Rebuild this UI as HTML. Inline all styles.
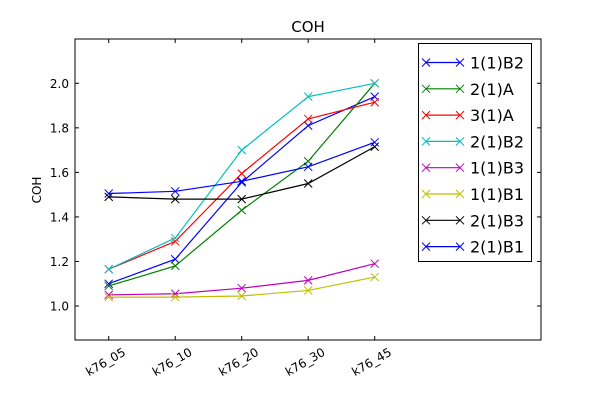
<!DOCTYPE html>
<html><head><meta charset="utf-8"><style>body{margin:0;background:#fff}svg{display:block}text{font-family:"DejaVu Sans","Liberation Sans",sans-serif}</style></head>
<body>
<svg id="s" width="600" height="400" xmlns="http://www.w3.org/2000/svg"></svg>
<script>
const s=document.getElementById('s');
const L=75,R=541,T=39,B=340;
const X=i=>108.7+i*66.5, Y=v=>306-(v-1)*222.7;
let h='<rect width="600" height="400" fill="#fff"/>';
h+='<text x="308" y="32" font-size="15" text-anchor="middle">COH</text>';
[1.0,1.2,1.4,1.6,1.8,2.0].forEach(v=>{const y=Y(v);
h+=`<line x1="${L}" y1="${y}" x2="${L+4}" y2="${y}" stroke="#000"/><line x1="${R}" y1="${y}" x2="${R-4}" y2="${y}" stroke="#000"/>`;
h+=`<text x="${L-6}" y="${y+4.5}" font-size="12" text-anchor="end">${v.toFixed(1)}</text>`;});
const labs=['k76_05','k76_10','k76_20','k76_30','k76_45'];
labs.forEach((l,i)=>{const x=X(i);
h+=`<line x1="${x}" y1="${B}" x2="${x}" y2="${B-4}" stroke="#000"/><line x1="${x}" y1="${T}" x2="${x}" y2="${T+4}" stroke="#000"/>`;
h+=`<text transform="translate(${x-3},${B+22}) rotate(-30)" font-size="12" text-anchor="middle" dy="4">${l}</text>`;});
h+=`<text transform="translate(41,190) rotate(-90)" font-size="12" text-anchor="middle">COH</text>`;
const ser=[
['1(1)B2','#0000ff',[1.10,1.21,1.555,1.81,1.94]],
['2(1)A','#008000',[1.09,1.18,1.43,1.65,2.0]],
['3(1)A','#ff0000',[1.165,1.29,1.595,1.84,1.915]],
['2(1)B2','#00bfbf',[1.165,1.305,1.70,1.94,2.0]],
['1(1)B3','#bf00bf',[1.05,1.055,1.08,1.115,1.19]],
['1(1)B1','#bfbf00',[1.04,1.04,1.045,1.07,1.13]],
['2(1)B3','#000000',[1.49,1.48,1.48,1.55,1.715]],
['2(1)B1','#0000ff',[1.505,1.515,1.56,1.625,1.735]]];
const xm=(x,y,c)=>`<path d="M${x-4},${y-4}L${x+4},${y+4}M${x-4},${y+4}L${x+4},${y-4}" stroke="${c}" stroke-width="1"/>`;
ser.forEach(([n,c,d])=>{
h+=`<polyline fill="none" stroke="${c}" stroke-width="1.2" points="${d.map((v,i)=>X(i)+','+Y(v)).join(' ')}"/>`;
d.forEach((v,i)=>h+=xm(X(i),Y(v),c));});
h+=`<rect x="${L}" y="${T}" width="${R-L}" height="${B-T}" fill="none" stroke="#000"/>`;
h+=`<rect x="418.5" y="43.5" width="113" height="218" fill="#fff" stroke="#000"/>`;
ser.forEach(([n,c],i)=>{const y=62.5+i*26.3;
h+=`<line x1="426" y1="${y}" x2="460" y2="${y}" stroke="${c}" stroke-width="1.2"/>`+xm(426,y,c)+xm(460,y,c);
h+=`<text x="470" y="${y+6}" font-size="16">${n}</text>`;});
s.innerHTML=h;
</script>
</body></html>
